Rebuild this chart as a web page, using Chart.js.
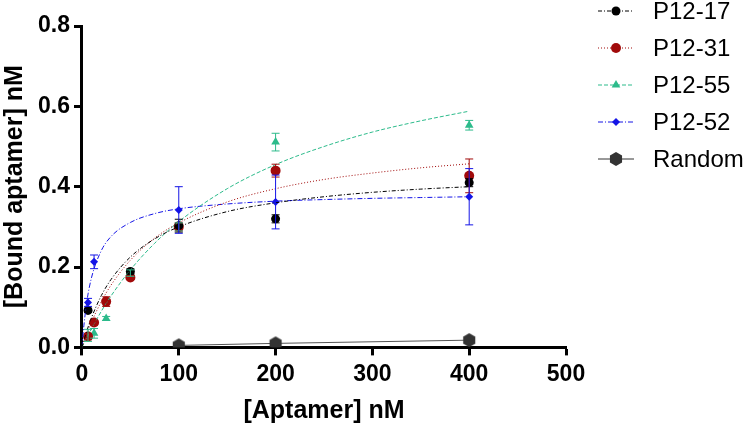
<!DOCTYPE html>
<html>
<head>
<meta charset="utf-8">
<script src="https://cdn.jsdelivr.net/npm/chart.js@4/dist/chart.umd.min.js"></script>
<style>
  html, body { margin: 0; padding: 0; background: #fff; }
  #wrap { width: 748px; height: 426px; }
</style>
</head>
<body>
<div id="wrap"><canvas id="c"></canvas></div>
<script>
// measured concentrations (nM)
const conc = [6.25, 12.5, 25, 50, 100, 200, 400];

const p1217 = [0.092, null, null, 0.189, 0.303, 0.320, 0.410];
const p1217Err = [0.005, null, null, 0.006, 0.016, 0.010, 0.010];
const p1231 = [0.027, 0.062, 0.114, 0.174, 0.300, 0.440, 0.427];
const p1231Err = [0.008, 0.006, 0.012, 0.005, 0.010, 0.016, 0.042];
const p1255 = [0.030, 0.035, 0.072, 0.185, 0.300, 0.511, 0.553];
const p1255Err = [0.015, 0.012, 0.005, 0.008, 0.010, 0.022, 0.012];
const p1252 = [0.112, 0.213, null, null, 0.342, 0.362, 0.375];
const p1252Err = [0.010, 0.017, null, null, 0.058, 0.067, 0.070];

const randConc = [100, 200, 400];
const randVals = [0.005, 0.010, 0.018];

// fitted binding curves
const fitX = [0, 1, 2, 5, 10, 20, 30, 50, 75, 100, 150, 200, 250, 300, 350, 400];
const fit1217 = [0, 0.009, 0.017, 0.041, 0.075, 0.129, 0.169, 0.225, 0.270, 0.300, 0.338, 0.360, 0.375, 0.386, 0.394, 0.400];
const fit1231 = [0, 0.007, 0.014, 0.034, 0.064, 0.114, 0.155, 0.217, 0.272, 0.310, 0.362, 0.395, 0.418, 0.434, 0.447, 0.457];
const fit1255 = [0, 0.005, 0.010, 0.024, 0.047, 0.090, 0.128, 0.193, 0.259, 0.313, 0.395, 0.455, 0.500, 0.536, 0.564, 0.588];
const fit1252 = [0, 0.030, 0.055, 0.114, 0.175, 0.241, 0.276, 0.311, 0.333, 0.345, 0.357, 0.364, 0.368, 0.371, 0.373, 0.375];

const xTicks = [0, 100, 200, 300, 400, 500];
const yTicks = [0, 0.2, 0.4, 0.6, 0.8];

const legendNames = ['P12-17', 'P12-31', 'P12-55', 'P12-52', 'Random'];

const BLACK = '#000000';
const RED = '#a10a0a';
const GREEN = '#2dbb8b';
const BLUE = '#1414e6';
const GREY = '#333333';

const toXY = (xs, ys) => xs.map((x, i) => ({ x: x, y: ys[i] })).filter(p => p.y !== null);

function hexagon(r, color) {
  const cv = document.createElement('canvas');
  cv.width = cv.height = r * 2 + 2;
  const g = cv.getContext('2d');
  g.fillStyle = color;
  g.beginPath();
  for (let i = 0; i < 6; i++) {
    const a = Math.PI / 6 + i * Math.PI / 3;
    const px = r + 1 + r * Math.cos(a), py = r + 1 + r * Math.sin(a);
    if (i === 0) g.moveTo(px, py); else g.lineTo(px, py);
  }
  g.closePath();
  g.fill();
  return cv;
}
const hexMarker = hexagon(7, GREY);

const series = [
  { name: legendNames[0], vals: p1217, err: p1217Err, fit: fit1217, color: BLACK, style: 'circle', r: 4.5, dash: [4, 2, 1, 2] },
  { name: legendNames[1], vals: p1231, err: p1231Err, fit: fit1231, color: RED, style: 'circle', r: 5, dash: [1, 2] },
  { name: legendNames[2], vals: p1255, err: p1255Err, fit: fit1255, color: GREEN, style: 'triangle', r: 5, dash: [4, 2] },
  { name: legendNames[3], vals: p1252, err: p1252Err, fit: fit1252, color: BLUE, style: 'rectRot', r: 4, dash: [5, 2, 1, 2] },
];

const datasets = [];
series.forEach(s => {
  datasets.push({
    label: s.name + ' fit',
    data: toXY(fitX, s.fit),
    showLine: true,
    borderColor: s.color,
    borderWidth: 1,
    borderDash: s.dash,
    pointRadius: 0,
    cubicInterpolationMode: 'monotone',
  });
});
datasets.push({
  label: 'Random',
  data: toXY(randConc, randVals),
  showLine: true,
  borderColor: '#555555',
  borderWidth: 1,
  pointStyle: hexMarker,
  pointRadius: 7,
});
series.forEach(s => {
  datasets.push({
    label: s.name,
    data: toXY(conc, s.vals),
    errors: s.err.filter(e => e !== null),
    showLine: false,
    backgroundColor: s.color,
    borderColor: s.color,
    borderWidth: 0,
    pointStyle: s.style,
    pointRadius: s.r,
  });
});

const errorBars = {
  id: 'errorBars',
  afterDatasetsDraw(chart) {
    const { ctx, scales: { x, y } } = chart;
    ctx.save();
    chart.data.datasets.forEach(ds => {
      if (!ds.errors) return;
      ctx.strokeStyle = ds.borderColor;
      ctx.lineWidth = 1;
      ds.data.forEach((p, i) => {
        const e = ds.errors[i];
        if (!e) return;
        const px = x.getPixelForValue(p.x);
        const top = y.getPixelForValue(p.y + e);
        const bot = y.getPixelForValue(p.y - e);
        ctx.beginPath();
        ctx.moveTo(px, top); ctx.lineTo(px, bot);
        ctx.moveTo(px - 4, top); ctx.lineTo(px + 4, top);
        ctx.moveTo(px - 4, bot); ctx.lineTo(px + 4, bot);
        ctx.stroke();
      });
    });
    ctx.restore();
  }
};

const sideLegend = {
  id: 'sideLegend',
  afterDraw(chart) {
    const ctx = chart.ctx;
    const items = series.map(s => ({ name: s.name, color: s.color, style: s.style, r: s.r, dash: s.dash }))
      .concat([{ name: 'Random', color: GREY, style: hexMarker, r: 7, dash: [] }]);
    ctx.save();
    items.forEach((it, i) => {
      const cy = 11 + i * 37;
      ctx.strokeStyle = it.color;
      ctx.lineWidth = 1;
      ctx.setLineDash(it.dash);
      ctx.beginPath();
      ctx.moveTo(598, cy); ctx.lineTo(634, cy);
      ctx.stroke();
      ctx.setLineDash([]);
      ctx.fillStyle = it.color;
      Chart.helpers.drawPoint(ctx, { pointStyle: it.style, radius: it.r, borderWidth: 0 }, 616, cy);
      ctx.fillStyle = '#000';
      ctx.font = '24px "Liberation Sans", Arial, sans-serif';
      ctx.textBaseline = 'middle';
      ctx.textAlign = 'left';
      ctx.fillText(it.name, 653, cy + 1);
    });
    ctx.restore();
  }
};

const tickFont = { family: '"Liberation Sans", Arial, sans-serif', size: 23, weight: 'bold' };
const titleFont = { family: '"Liberation Sans", Arial, sans-serif', size: 25, weight: 'bold' };

new Chart(document.getElementById('c'), {
  type: 'scatter',
  data: { datasets: datasets },
  options: {
    responsive: true,
    maintainAspectRatio: false,
    animation: false,
    layout: { padding: { left: 0, right: 182, top: 26, bottom: 0 } },
    plugins: { legend: { display: false }, tooltip: { enabled: false } },
    scales: {
      x: {
        type: 'linear',
        min: 0, max: 500,
        afterBuildTicks: axis => { axis.ticks = xTicks.map(v => ({ value: v })); },
        grid: { drawOnChartArea: false, drawTicks: true, tickLength: 8, tickWidth: 3, tickColor: '#000' },
        border: { display: true, width: 3, color: '#000' },
        ticks: { color: '#000', font: tickFont, padding: 5, maxRotation: 0 },
        title: { display: true, text: '[Aptamer] nM', color: '#000', font: titleFont, padding: { top: 3, bottom: 0 } },
      },
      y: {
        type: 'linear',
        min: 0, max: 0.8,
        afterBuildTicks: axis => { axis.ticks = yTicks.map(v => ({ value: v })); },
        grid: { drawOnChartArea: false, drawTicks: true, tickLength: 8, tickWidth: 3, tickColor: '#000' },
        border: { display: true, width: 3, color: '#000' },
        ticks: { color: '#000', font: tickFont, padding: 4, callback: v => v.toFixed(1) },
        title: { display: true, text: '[Bound aptamer] nM', color: '#000', font: titleFont, padding: { top: 0, bottom: 4 } },
      },
    },
  },
  plugins: [errorBars, sideLegend],
});
</script>
</body>
</html>
